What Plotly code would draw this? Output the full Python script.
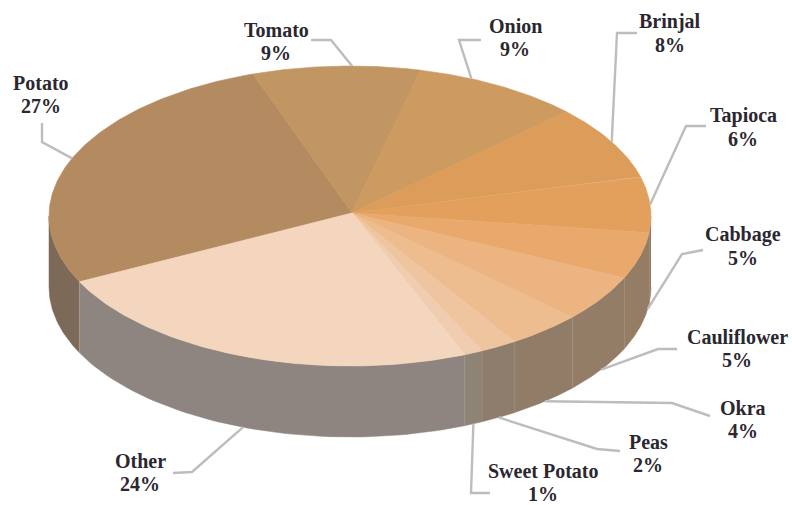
import numpy as np
import plotly.graph_objects as go

# Crop shares, clockwise from the Potato slice
categories = ["Potato", "Tomato", "Onion", "Brinjal", "Tapioca", "Cabbage",
              "Cauliflower", "Okra", "Peas", "Sweet Potato", "Other"]
shares = [27, 9, 9, 8, 6, 5, 5, 4, 2, 1, 24]

top_colors = ["#b48a60", "#c29662", "#cd9b60", "#dc9d5a", "#e2a05c", "#e9a96c",
              "#ebb480", "#edbc8f", "#efc5a0", "#f0ccb0", "#f3d6bd"]
side_colors = ["#7d6958", "#7d6958", "#7d6958", "#7d6958", "#92795f", "#947c65",
               "#947d67", "#917c68", "#8e7d6c", "#8f8375", "#8e8581"]

# Label centres
label_x = [41, 276, 515, 670, 743, 743, 737, 743, 648, 543, 140]
label_y = [94, 41, 37, 33, 127, 246, 348, 419, 453, 482, 472]

# Elbows of each leader, from the label towards the pie
leader_x = [[42, 42], [311, 331], [481, 459], [637, 617], [706, 686], [703, 682],
            [677, 658], [710, 672], [620, 597], [490, 471], [173, 192]]
leader_y = [[123, 142], [40, 40], [40, 40], [33, 33], [126, 126], [250, 254],
            [349, 349], [416, 403], [451, 449], [493, 493], [473, 472]]
# Small shifts of the leader's anchor along the rim, in degrees
leader_shift = [0, 3, -6, 0, 0, -7, 0, 0, 0, 0, 0]

START_ANGLE = 244.0
CX, CY, RX, RY, DEPTH = 350.0, 216.0, 301.0, 150.0, 71.0
APEX_X, APEX_Y = 352.0, 213.0
LINE_GAP = 11.5


def rim(theta_deg, drop=0.0):
    t = np.radians(theta_deg)
    return CX + RX * np.sin(t), CY - RY * np.cos(t) + drop


edges = START_ANGLE + np.concatenate([[0], np.cumsum(shares)]) * 360.0 / sum(shares)
fig = go.Figure()

# Outer wall: only the front half of the disc is visible
for i, name in enumerate(categories):
    a, b = edges[i], edges[i + 1]
    for lo, hi in [(a, b), (a - 360, b - 360)]:
        lo2, hi2 = max(lo, 90), min(hi, 270)
        if hi2 <= lo2:
            continue
        th = np.linspace(lo2, hi2, 60)
        x1, y1 = rim(th)
        x2, y2 = rim(th[::-1], DEPTH)
        fig.add_trace(go.Scatter(
            x=np.r_[x1, x2], y=np.r_[y1, y2], mode="lines", fill="toself",
            fillcolor=side_colors[i], line=dict(color=side_colors[i], width=0.5),
            hoverinfo="skip", showlegend=False))
        # Faint seam where the wall changes slice
        sx, sy = rim(np.array([hi2, hi2]), np.array([0, DEPTH]))
        if hi2 < 270:
            fig.add_trace(go.Scatter(
                x=sx, y=sy, mode="lines",
                line=dict(color="rgba(190,180,170,0.22)", width=1.5),
                hoverinfo="skip", showlegend=False))

# Top face
for i, name in enumerate(categories):
    th = np.linspace(edges[i], edges[i + 1], 120)
    x, y = rim(th)
    fig.add_trace(go.Scatter(
        x=np.r_[APEX_X, x, APEX_X], y=np.r_[APEX_Y, y, APEX_Y], mode="lines", fill="toself",
        fillcolor=top_colors[i], line=dict(color=top_colors[i], width=0.6),
        name=name, hoverinfo="name", showlegend=False))

# Leaders and labels
label_font = dict(family="Liberation Serif", size=20, color="#2b2730")
for i, name in enumerate(categories):
    mid = (edges[i] + edges[i + 1]) / 2 + leader_shift[i]
    front = np.cos(np.radians(mid)) < 0 and not (i == 0)
    ax, ay = rim(mid, DEPTH if front else 0.0)
    fig.add_trace(go.Scatter(
        x=leader_x[i] + [float(ax)], y=leader_y[i] + [float(ay)], mode="lines",
        line=dict(color="#bdbdbd", width=2.4), hoverinfo="skip", showlegend=False))
    fig.add_annotation(
        x=label_x[i], y=label_y[i] - LINE_GAP, xref="x", yref="y", showarrow=False,
        text=f"<b>{name}</b>", font=label_font)
    fig.add_annotation(
        x=label_x[i], y=label_y[i] + LINE_GAP, xref="x", yref="y", showarrow=False,
        text=f"<b>{shares[i]}%</b>", font=label_font)

fig.update_layout(
    width=792, height=505, autosize=False,
    margin=dict(l=0, r=0, t=0, b=0),
    paper_bgcolor="white", plot_bgcolor="white",
    xaxis=dict(range=[0, 792], visible=False, fixedrange=True),
    yaxis=dict(range=[505, 0], visible=False, fixedrange=True),
)
fig.write_html("out.html", config={"displayModeBar": False})
